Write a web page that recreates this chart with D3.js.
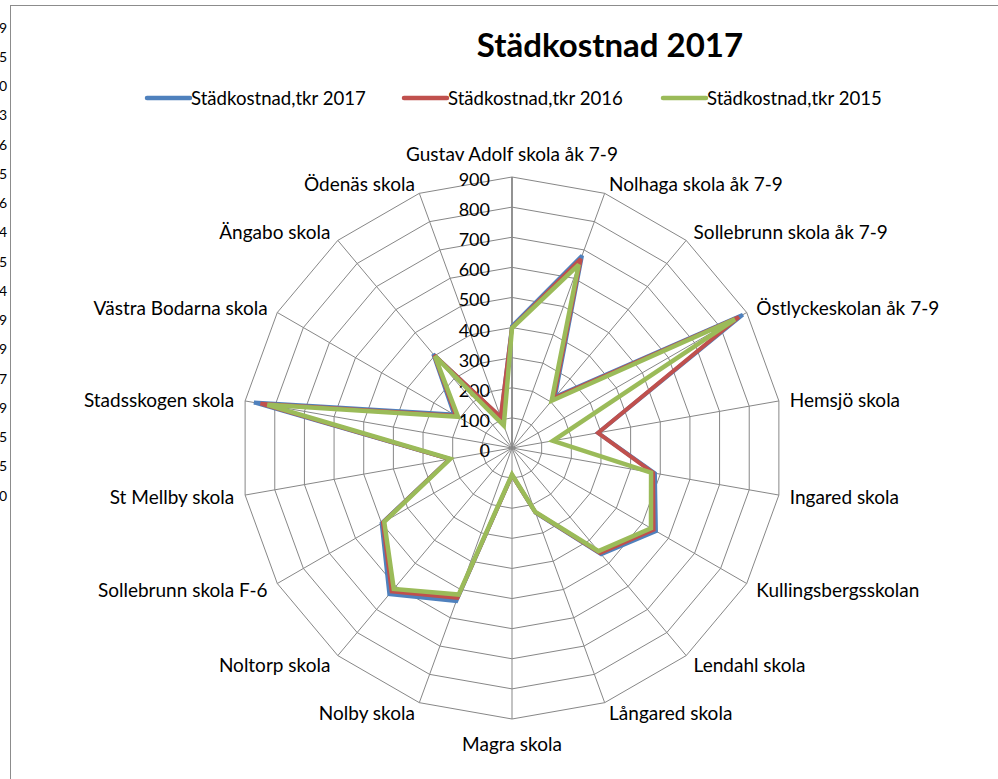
<!DOCTYPE html>
<html lang="sv">
<head>
    <meta charset="UTF-8" />
    <title>Städkostnad 2017</title>
    <script src="https://d3js.org/d3.v7.min.js"></script>
    <style>
        body {
            margin: 0;
            background: #ffffff;
            font-family: Lato, "Open Sans", Arial, sans-serif;
        }
        svg {
            display: block;
        }
    </style>
</head>
<body>
<div id="chart"></div>
<script>
    // Categories, clockwise from the top
    const categories = [
        "Gustav Adolf skola åk 7-9", "Nolhaga skola åk 7-9", "Sollebrunn skola åk 7-9",
        "Östlyckeskolan åk 7-9", "Hemsjö skola", "Ingared skola", "Kullingsbergsskolan",
        "Lendahl skola", "Långared skola", "Magra skola", "Nolby skola", "Noltorp skola",
        "Sollebrunn skola F-6", "St Mellby skola", "Stadsskogen skola",
        "Västra Bodarna skola", "Ängabo skola", "Ödenäs skola"
    ];

    const seriesNames = ["Städkostnad,tkr 2017", "Städkostnad,tkr 2016", "Städkostnad,tkr 2015"];
    const values2017 = [405, 680, 222, 885, 290, 482, 552, 461, 229, 90, 541, 634, 500, 210, 870, 222, 407, 108];
    const values2016 = [400, 668, 215, 870, 290, 476, 543, 455, 227, 90, 530, 622, 495, 210, 848, 215, 402, 110];
    const values2015 = [398, 648, 205, 855, 138, 469, 533, 447, 226, 88, 518, 611, 490, 208, 825, 207, 398, 80];
    const seriesColors = ["#4F81BD", "#C0504D", "#9BBB59"];

    const tickValues = [0, 100, 200, 300, 400, 500, 600, 700, 800, 900];

    // cut-off worksheet digits visible at the left edge
    const edgeDigits = ["9", "5", "0", "3", "6", "5", "6", "4", "5", "4", "9", "9", "7", "9", "5", "5", "0"];

    const width = 998, height = 779;
    const cx = 512, cy = 448, radius = 271;

    const svg = d3.select("#chart").append("svg")
        .attr("width", width)
        .attr("height", height);

    // worksheet digits behind the chart frame
    const yDigits = d3.scalePoint().domain(d3.range(edgeDigits.length)).range([27, 495]);
    svg.append("g")
        .selectAll("text")
        .data(edgeDigits)
        .join("text")
        .attr("x", 7)
        .attr("y", (d, i) => yDigits(i))
        .attr("text-anchor", "end")
        .attr("dominant-baseline", "central")
        .attr("font-size", 14)
        .attr("fill", "#000")
        .text(d => d);

    // chart frame
    svg.append("rect")
        .attr("x", 10.5)
        .attr("y", 5.5)
        .attr("width", width + 20)
        .attr("height", height + 20)
        .attr("fill", "#fff")
        .attr("stroke", "#8c8c8c")
        .attr("stroke-width", 1);

    // title
    svg.append("text")
        .attr("x", 610)
        .attr("y", 57)
        .attr("text-anchor", "middle")
        .attr("font-size", 33)
        .attr("font-weight", "bold")
        .text("Städkostnad 2017");

    // legend
    const legendX = [147, 404, 663];
    const legend = svg.append("g")
        .selectAll("g")
        .data(seriesNames)
        .join("g")
        .attr("transform", (d, i) => `translate(${legendX[i]}, 98)`);
    legend.append("line")
        .attr("x1", 0).attr("x2", 43)
        .attr("stroke", (d, i) => seriesColors[i])
        .attr("stroke-width", 4.5)
        .attr("stroke-linecap", "round");
    legend.append("text")
        .attr("x", 44)
        .attr("dominant-baseline", "central")
        .attr("font-size", 18.6)
        .text(d => d);

    // scales
    const angle = d3.scalePoint()
        .domain(categories)
        .range([0, 2 * Math.PI * (categories.length - 1) / categories.length]);
    const r = d3.scaleLinear().domain([0, 900]).range([0, radius]);

    const px = (a, v) => cx + r(v) * Math.sin(a);
    const py = (a, v) => cy - r(v) * Math.cos(a);

    const grid = svg.append("g").attr("class", "grid");

    // rings
    grid.selectAll("path.ring")
        .data(tickValues.slice(1))
        .join("path")
        .attr("class", "ring")
        .attr("d", v => d3.line()(categories.map(c => [px(angle(c), v), py(angle(c), v)])) + "Z")
        .attr("fill", "none")
        .attr("stroke", "#878787")
        .attr("stroke-width", 1);

    // spokes
    grid.selectAll("line.spoke")
        .data(categories)
        .join("line")
        .attr("class", "spoke")
        .attr("x1", cx).attr("y1", cy)
        .attr("x2", c => px(angle(c), 900))
        .attr("y2", c => py(angle(c), 900))
        .attr("stroke", "#878787")
        .attr("stroke-width", (c, i) => i === 0 ? 1.8 : 1);

    // value axis tick labels
    svg.append("g")
        .selectAll("text")
        .data(tickValues)
        .join("text")
        .attr("x", cx - 22)
        .attr("y", v => cy - r(v) + 2)
        .attr("text-anchor", "end")
        .attr("dominant-baseline", "central")
        .attr("font-size", 18)
        .text(v => v);

    // category labels
    svg.append("g")
        .selectAll("text")
        .data(categories)
        .join("text")
        .attr("x", c => {
            const a = angle(c), s = Math.sin(a);
            return px(a, 900) + s * 10 + (Math.abs(s) < 0.01 ? 0 : Math.sign(s));
        })
        .attr("y", c => {
            const a = angle(c), co = Math.cos(a);
            const off = Math.abs(Math.sin(a)) < 0.01 ? 24 : 11;
            return py(a, 900) - co * off;
        })
        .attr("text-anchor", c => {
            const s = Math.sin(angle(c));
            return Math.abs(s) < 0.01 ? "middle" : (s > 0 ? "start" : "end");
        })
        .attr("dominant-baseline", "central")
        .attr("font-size", 19)
        .text(c => c);

    // series
    const seriesData = [values2017, values2016, values2015];
    const radar = d3.lineRadial()
        .angle((d, i) => angle(categories[i]))
        .radius(d => r(d))
        .curve(d3.curveLinearClosed);

    svg.append("g")
        .attr("transform", `translate(${cx}, ${cy})`)
        .selectAll("path")
        .data(seriesData)
        .join("path")
        .attr("d", d => radar(d))
        .attr("fill", "none")
        .attr("stroke", (d, i) => seriesColors[i])
        .attr("stroke-width", (d, i) => i === 2 ? 4.5 : 4)
        .attr("stroke-linejoin", "miter")
        .attr("stroke-miterlimit", 3);
</script>
</body>
</html>
